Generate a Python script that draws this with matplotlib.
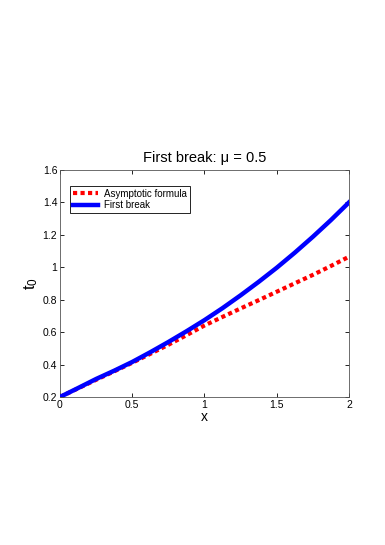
import matplotlib
matplotlib.use("Agg")
import matplotlib.pyplot as plt

plt.rcParams["font.family"] = ["Liberation Sans", "DejaVu Sans"]
plt.rcParams["mathtext.fontset"] = "custom"
plt.rcParams["mathtext.rm"] = "Liberation Sans"

# values
x_pts = [0.0, 0.125, 0.25, 0.375, 0.5, 0.625, 0.75, 0.875, 1.0,
         1.125, 1.25, 1.375, 1.5, 1.625, 1.75, 1.875, 2.0]
first_break = [0.2, 0.255, 0.311, 0.362, 0.416, 0.476, 0.539, 0.605, 0.674,
               0.748, 0.827, 0.910, 0.997, 1.090, 1.188, 1.291, 1.400]
asymptotic = [0.2, 0.253, 0.306, 0.358, 0.411, 0.466, 0.522, 0.581, 0.641,
              0.694, 0.746, 0.797, 0.849, 0.901, 0.953, 1.008, 1.065]

x_ticks = [0, 0.5, 1, 1.5, 2]
x_tick_labels = ["0", "0.5", "1", "1.5", "2"]
y_ticks = [0.2, 0.4, 0.6, 0.8, 1.0, 1.2, 1.4, 1.6]
y_tick_labels = ["0.2", "0.4", "0.6", "0.8", "1", "1.2", "1.4", "1.6"]

fig = plt.figure(figsize=(3.85, 5.45), dpi=100)
ax = fig.add_axes([0.1558, 0.2716, 0.7506, 0.4165])

ax.plot(x_pts, asymptotic, color="red", linestyle=(0, (1.0, 0.8)),
        linewidth=3, label="Asymptotic formula", zorder=2)
ax.plot(x_pts, first_break, color="blue", linewidth=3.2,
        label="First break", zorder=3)

ax.set_xlim(0, 2)
ax.set_ylim(0.2, 1.6)
ax.set_xticks(x_ticks)
ax.set_xticklabels(x_tick_labels)
ax.set_yticks(y_ticks)
ax.set_yticklabels(y_tick_labels)
ax.tick_params(direction="in", top=True, right=True, labelsize=7.5,
               length=3, width=0.6, pad=2)
for sp in ax.spines.values():
    sp.set_linewidth(0.6)
    sp.set_color("#555555")

ax.set_title("First break: \u03bc = 0.5", fontsize=10.5, pad=6)
ax.set_xlabel("x", fontsize=10, labelpad=0)
ax.set_ylabel("$\\mathregular{t_0}$", fontsize=12, labelpad=2)

leg = ax.legend(loc="upper left", bbox_to_anchor=(0.035, 0.93),
                borderaxespad=0, fontsize=7, fancybox=False,
                framealpha=1, edgecolor="black", handlelength=2.6,
                handletextpad=0.6, borderpad=0.3, labelspacing=0.15)
leg.get_frame().set_linewidth(0.6)

fig.savefig("out.png", dpi=100)
